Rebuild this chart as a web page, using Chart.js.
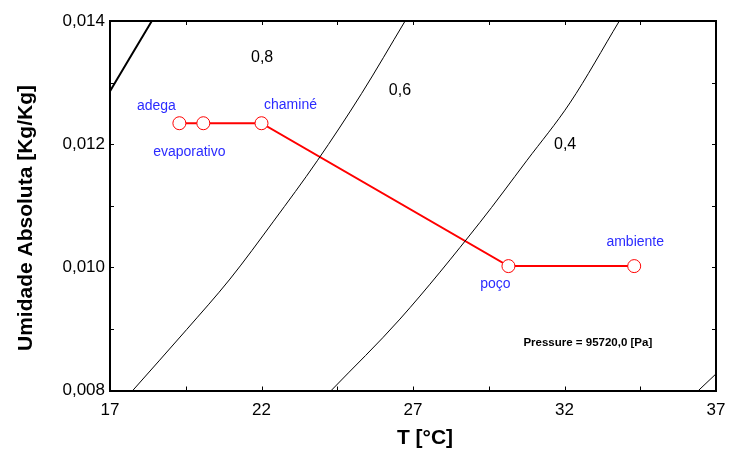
<!DOCTYPE html>
<html>
<head>
<meta charset="utf-8">
<script src="https://cdn.jsdelivr.net/npm/chart.js@4/dist/chart.umd.min.js"></script>
<style>
  html, body { margin: 0; padding: 0; background: #fff; }
  #wrap { width: 729px; height: 454px; }
</style>
</head>
<body>
<div id="wrap"><canvas id="myChart"></canvas></div>
<script>
'use strict';

// process points (temperature in °C, absolute humidity in kg/kg)
let stateNames = ['adega', 'evaporativo', 'chaminé', 'poço', 'ambiente'];
let stateT = [19.29, 20.08, 22.0, 30.15, 34.3];
let stateW = [0.01234, 0.01234, 0.01234, 0.01002, 0.01002];
// order in which the red line joins them
let pathOrder = [0, 1, 2, 3, 4];

// relative humidity curves
let rh100T = [17.0, 17.7, 18.38];
let rh100W = [0.01286, 0.01344, 0.0140];
let rh60T = [17.75, 19.53, 20.96, 22.4, 23.84, 25.3, 26.74];
let rh60W = [0.0080, 0.00899, 0.00981, 0.01075, 0.01173, 0.01282, 0.0140];
let rh40T = [24.3, 26.57, 29.21, 30.75, 32.18, 33.81];
let rh40W = [0.0080, 0.00916, 0.01073, 0.01173, 0.01267, 0.0140];
let rh20T = [36.42, 37.0];
let rh20W = [0.0080, 0.00827];

// curve labels
let rhLabels = ['0,8', '0,6', '0,4'];
let rhLabelT = [22.02, 26.57, 32.02];
let rhLabelW = [0.01341, 0.01287, 0.01199];

let pressureText = 'Pressure = 95720,0 [Pa]';

let xMin = 17, xMax = 37, xMajor = 5, xMinor = 2.5;
let yMin = 0.008, yMax = 0.014, yMajor = 0.002, yMinor = 0.001;

function pairs(xs, ys) {
    let out = [];
    for (let i = 0; i < xs.length; i++) {
        out.push({x: xs[i], y: ys[i]});
    }
    return out;
}

function curve(xs, ys, width) {
    return {
        data: pairs(xs, ys),
        showLine: true,
        borderColor: '#000',
        borderWidth: width,
        pointRadius: 0,
        cubicInterpolationMode: 'monotone',
        fill: false
    };
}

let pathData = pathOrder.map(i => ({x: stateT[i], y: stateW[i]}));

// where each state name sits relative to its marker, in px
let nameOffset = {
    'adega': [-23, -17],
    'evaporativo': [-14, 29],
    'chaminé': [29, -18],
    'poço': [-13, 18],
    'ambiente': [1, -24]
};

const frameAndText = {
    id: 'frameAndText',
    afterDatasetsDraw(chart) {
        let ctx = chart.ctx;
        let a = chart.chartArea;
        let xs = chart.scales.x;
        let ys = chart.scales.y;
        ctx.save();

        // top and right border
        ctx.strokeStyle = '#000';
        ctx.lineWidth = 2;
        ctx.beginPath();
        ctx.moveTo(a.left, a.top);
        ctx.lineTo(a.right, a.top);
        ctx.lineTo(a.right, a.bottom);
        ctx.stroke();

        // tick marks pointing inwards on all four sides
        ctx.lineWidth = 1;
        ctx.beginPath();
        for (let v = xMin; v <= xMax + 1e-9; v += xMinor) {
            let px = Math.round(xs.getPixelForValue(v)) + 0.5;
            ctx.moveTo(px, a.bottom);
            ctx.lineTo(px, a.bottom - 4);
            ctx.moveTo(px, a.top);
            ctx.lineTo(px, a.top + 4);
        }
        for (let v = yMin; v <= yMax + 1e-9; v += yMinor) {
            let py = Math.round(ys.getPixelForValue(v)) + 0.5;
            ctx.moveTo(a.left, py);
            ctx.lineTo(a.left + 4, py);
            ctx.moveTo(a.right, py);
            ctx.lineTo(a.right - 4, py);
        }
        ctx.stroke();

        // curve labels
        ctx.fillStyle = '#000';
        ctx.font = '16px Arial, "Liberation Sans", sans-serif';
        ctx.textAlign = 'center';
        ctx.textBaseline = 'middle';
        for (let i = 0; i < rhLabels.length; i++) {
            ctx.fillText(rhLabels[i], xs.getPixelForValue(rhLabelT[i]), ys.getPixelForValue(rhLabelW[i]));
        }

        // state names
        ctx.fillStyle = '#2b2bff';
        ctx.font = '14px Arial, "Liberation Sans", sans-serif';
        for (let i = 0; i < stateNames.length; i++) {
            let off = nameOffset[stateNames[i]];
            ctx.fillText(stateNames[i], xs.getPixelForValue(stateT[i]) + off[0], ys.getPixelForValue(stateW[i]) + off[1]);
        }

        // pressure note
        ctx.fillStyle = '#000';
        ctx.font = 'bold 11.5px Arial, "Liberation Sans", sans-serif';
        ctx.fillText(pressureText, xs.getPixelForValue(32.77), ys.getPixelForValue(0.008772));

        // axis titles
        ctx.font = 'bold 21px Arial, "Liberation Sans", sans-serif';
        ctx.fillText('T [°C]', 425, 438);
        ctx.translate(26, 218);
        ctx.rotate(-Math.PI / 2);
        ctx.fillText('Umidade Absoluta [Kg/Kg]', 0, 0);
        ctx.restore();
    }
};

let ctx = document.getElementById('myChart').getContext('2d');
let myChart = new Chart(ctx, {
    type: 'scatter',
    data: {
        datasets: [
            curve(rh100T, rh100W, 2),
            curve(rh60T, rh60W, 1),
            curve(rh40T, rh40W, 1),
            curve(rh20T, rh20W, 1),
            {
                data: pathData,
                showLine: true,
                borderColor: '#ff0000',
                borderWidth: 2,
                pointRadius: 6.5,
                pointBackgroundColor: '#fff',
                pointBorderColor: '#ff0000',
                pointBorderWidth: 1,
                tension: 0
            }
        ]
    },
    options: {
        responsive: true,
        maintainAspectRatio: false,
        animation: false,
        layout: {
            padding: {top: 21, right: 13, left: 0, bottom: 0}
        },
        plugins: {
            legend: {display: false},
            tooltip: {enabled: false}
        },
        scales: {
            x: {
                type: 'linear',
                min: xMin,
                max: xMax,
                afterFit(scale) {
                    scale.height = 63.5;
                    scale.paddingLeft = 0;
                    scale.paddingRight = 0;
                },
                afterBuildTicks(scale) {
                    let t = [];
                    for (let v = xMin; v <= xMax + 1e-9; v += xMajor) t.push({value: v});
                    scale.ticks = t;
                },
                grid: {display: false, drawTicks: false},
                border: {display: true, color: '#000', width: 2},
                ticks: {
                    padding: 10,
                    color: '#000',
                    font: {family: 'Arial, "Liberation Sans", sans-serif', size: 17},
                    callback: v => String(Math.round(v))
                }
            },
            y: {
                type: 'linear',
                min: yMin,
                max: yMax,
                afterFit(scale) {
                    scale.width = 110;
                    scale.paddingTop = 0;
                    scale.paddingBottom = 0;
                },
                afterBuildTicks(scale) {
                    let t = [];
                    for (let k = 0; k <= 3; k++) t.push({value: yMin + k * yMajor});
                    scale.ticks = t;
                },
                grid: {display: false, drawTicks: false},
                border: {display: true, color: '#000', width: 2},
                ticks: {
                    padding: 5,
                    color: '#000',
                    font: {family: 'Arial, "Liberation Sans", sans-serif', size: 17},
                    callback: v => v.toFixed(3).replace('.', ',')
                }
            }
        }
    },
    plugins: [frameAndText]
});
</script>
</body>
</html>
